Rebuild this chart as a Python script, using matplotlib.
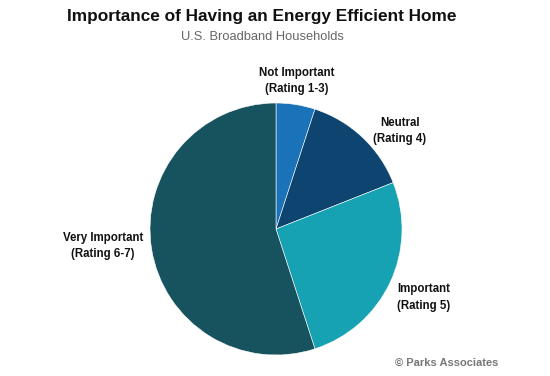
import matplotlib
matplotlib.use("Agg")
import matplotlib.pyplot as plt

categories = ["Not Important\n(Rating 1-3)", "Neutral\n(Rating 4)", "Important\n(Rating 5)", "Very Important\n(Rating 6-7)"]
values = [5, 14, 26, 55]
colors = ["#1a73b8", "#0e4470", "#17a2b4", "#17525f"]

plt.rcParams['font.family'] = ['Liberation Sans', 'DejaVu Sans']

W, H = 550, 376
fig = plt.figure(figsize=(W / 100, H / 100), dpi=100)
ax = fig.add_axes([0, 0, 1, 1])

ax.pie(values, colors=colors, startangle=90, counterclock=False,
       center=(276, H - 229), radius=126, frame=True,
       wedgeprops=dict(edgecolor='white', linewidth=0.4))
ax.set_xlim(0, W)
ax.set_ylim(0, H)
ax.set_aspect('equal')
ax.axis('off')

ax.text(262, H - 16, "Importance of Having an Energy Efficient Home", ha='center', va='center',
        fontsize=12.4, fontweight='bold', color='#111111')
ax.text(262, H - 37, "U.S. Broadband Households", ha='center', va='center',
        fontsize=9.3, color='#666666')

lab_pos = [(297, 81, 'center'), (400, 131, 'center'), (397, 297.5, 'left'), (103, 246, 'center')]
for lab, (x, y, ha) in zip(categories, lab_pos):
    ax.text(x, H - y, lab, ha=ha, va='center', fontsize=8.3, fontweight='bold',
            color='#111111', linespacing=1.55, multialignment='center' if ha == 'center' else 'left')

ax.text(395, H - 363, "© Parks Associates", ha='left', va='center', fontsize=8,
        fontweight='bold', color='#777777')

fig.savefig("out.png", dpi=100)
